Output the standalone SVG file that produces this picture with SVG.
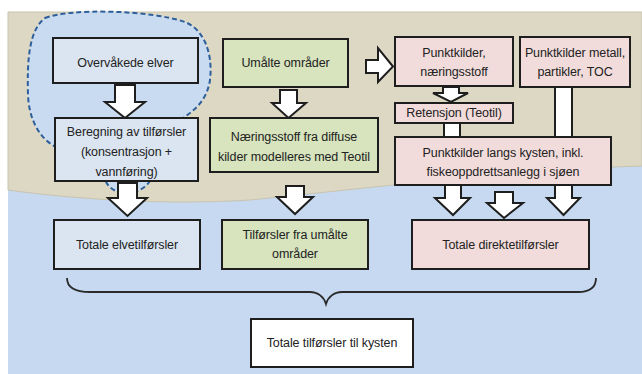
<svg xmlns="http://www.w3.org/2000/svg" width="642" height="374" viewBox="0 0 642 374">
<style>
.box{stroke:#1e1e1e;stroke-width:2}
.blue{fill:#dbe5f1}
.green{fill:#d7e4bd}
.pink{fill:#f2dcdb}
.white{fill:#ffffff}
.t{font-family:"Liberation Sans",Arial,sans-serif;font-size:12.5px;fill:#222222;text-anchor:middle;dominant-baseline:central;letter-spacing:-0.1px}
.arr{fill:#ffffff;stroke:#1e1e1e;stroke-width:2;stroke-linejoin:miter}
</style>
<rect x="0" y="0" width="642" height="374" fill="#ffffff"/>
<g id="background">
<rect x="8" y="12" width="634" height="362" fill="#c6d9f0"/>
<path d="M8,12 H642 V166 L612,167 C500,172 350,190 250,200 C170,205 80,200 8,190 Z" fill="#ddd8c4" stroke="#c9c4ae" stroke-width="1"/>
<path d="M45,18 C70,8 150,10 185,22 C205,30 213,55 210,80 C207,100 195,110 183,118 L150,181 C140,196 115,198 106,182 L58,148 C40,140 29,120 28,95 C27,60 29,30 45,18 Z" fill="#c9dbf0" stroke="#2e5f9a" stroke-width="2" stroke-dasharray="5,3"/>
</g>
<g id="connectors">
<polygon class="arr" points="115,85 135,85 135,102 145,102 125,118 105,102 115,102"/>
<polygon class="arr" points="118,183 137,183 137,198 147,198 127.5,216 108,198 118,198"/>
<polygon class="arr" points="280,90 297,90 297,103 306,103 288.5,118 272,103 280,103"/>
<polygon class="arr" points="286,186 304,186 304,197 313,197 295,214 277,197 286,197"/>
<polygon class="arr" points="366,60 378,60 378,48 393,66.5 378,82 378,73 366,73"/>
<polygon class="arr" points="443,87 459,87 459,93 468,93 451,102 433,93 443,93"/>
<rect class="arr" x="444" y="123" width="16" height="14"/>
<rect class="arr" x="555" y="87" width="17" height="55"/>
</g>
<g id="n-overvakede"><rect class="box blue" x="53" y="38" width="145" height="45"/><text class="t" x="125.5" y="63">Overvåkede elver</text></g>
<g id="n-beregning"><rect class="box blue" x="55" y="118" width="143" height="63"/><text class="t" x="126.5" y="132">Beregning av tilførsler</text><text class="t" x="126.5" y="152">(konsentrasjon +</text><text class="t" x="126.5" y="172">vannføring)</text></g>
<g id="n-umalte"><rect class="box green" x="223" y="39" width="125" height="48"/><text class="t" x="285.5" y="63">Umålte områder</text></g>
<g id="n-naering"><rect class="box green" x="210" y="118" width="168" height="54"/><text class="t" x="294" y="137">Næringsstoff fra diffuse</text><text class="t" x="294" y="157">kilder modelleres med Teotil</text></g>
<g id="n-punkt-naering"><rect class="box pink" x="395" y="37" width="118" height="49"/><text class="t" x="454" y="53">Punktkilder,</text><text class="t" x="454" y="72">næringsstoff</text></g>
<g id="n-punkt-metall"><rect class="box pink" x="520" y="37" width="110" height="50"/><text class="t" x="575" y="53">Punktkilder metall,</text><text class="t" x="575" y="72">partikler, TOC</text></g>
<g id="n-retensjon"><rect class="box pink" x="395" y="103" width="118" height="20"/><text class="t" x="454" y="113">Retensjon (Teotil)</text></g>
<g id="n-langs"><rect class="box pink" x="395" y="137" width="216" height="48"/><text class="t" x="503" y="153">Punktkilder langs kysten, inkl.</text><text class="t" x="503" y="172">fiskeoppdrettsanlegg i sjøen</text></g>
<g id="connectors-lower">
<polygon class="arr" points="445,185 461,185 461,198 470,198 453,215 435,198 445,198"/>
<polygon class="arr" points="495,192 513,192 513,203 523,203 504,218 487,203 495,203"/>
<polygon class="arr" points="555,185 572,185 572,198 580,198 563.5,215 547,198 555,198"/>
<path d="M67,278 C67,288 75,292 90,292 H310 C318,292 324,297 326,304 C328,297 334,292 342,292 H578 C590,292 596,288 596,278" fill="none" stroke="#2a2a2a" stroke-width="1.8"/>
</g>
<g id="n-totale-elve"><rect class="box blue" x="54" y="220" width="146" height="49"/><text class="t" x="127" y="245">Totale elvetilførsler</text></g>
<g id="n-tilf-umalte"><rect class="box green" x="222" y="220" width="146" height="49"/><text class="t" x="295" y="235">Tilførsler fra umålte</text><text class="t" x="295" y="254">områder</text></g>
<g id="n-totale-direkte"><rect class="box pink" x="412" y="220" width="177" height="49"/><text class="t" x="500.5" y="245">Totale direktetilførsler</text></g>
<g id="n-totale-kysten"><rect class="box white" x="251" y="319" width="162" height="48"/><text class="t" x="332" y="343">Totale tilførsler til kysten</text></g>
</svg>
